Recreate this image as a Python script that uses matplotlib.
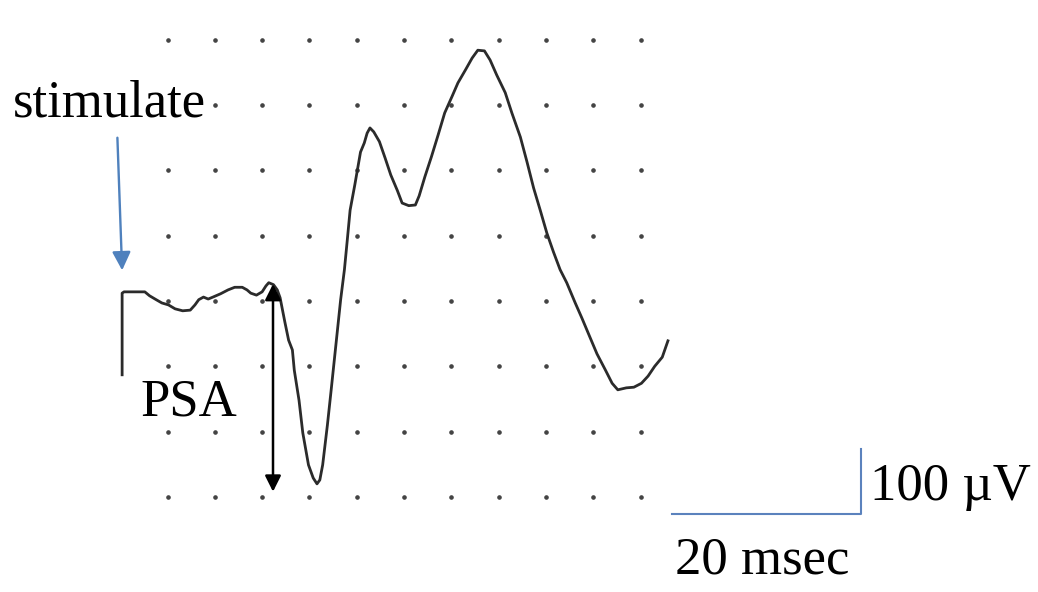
import numpy as np
import matplotlib
matplotlib.use("Agg")
import matplotlib.pyplot as plt

plt.rcParams['font.family'] = ['Liberation Serif', 'DejaVu Serif']

# evoked response trace: time (ms) and amplitude (uV)
time_ms = [-4.8, -4.8, -4.6, -2.4, -1.9, -1.2, -0.6, 0.1, 0.8, 1.6, 2.4, 2.9, 3.3, 3.8,
           4.3, 4.8, 5.6, 6.4, 7.1, 7.9, 8.4, 8.8, 9.4, 10.0, 10.4, 10.7, 11.2, 11.6,
           11.9, 12.4, 12.8, 13.2, 13.4, 13.9, 14.3, 14.9, 15.4, 15.8, 16.1, 16.4,
           16.9, 17.3, 17.8, 18.3, 18.7, 19.0, 19.3, 19.8, 20.4, 20.8, 21.1, 21.4,
           21.8, 22.4, 23.0, 23.6, 24.3, 24.8, 25.5, 26.2, 26.6, 27.2, 27.9, 28.6,
           29.3, 30.1, 30.7, 31.5, 32.2, 32.8, 33.5, 34.1, 34.8, 35.7, 36.4, 37.3,
           38.0, 38.7, 39.4, 40.1, 40.8, 41.5, 42.2, 43.1, 43.8, 44.7, 45.4, 46.3,
           47.0, 47.6, 48.5, 49.3, 50.1, 50.8, 51.5, 52.3, 52.9]
amp_uV = [-113, 12, 14, 14, 8, 2, -3, -6, -12, -15, -14, -6, 2, 6,
          3, 6, 11, 17, 21, 21, 17, 12, 9, 14, 23, 28, 25, 17,
          5, -32, -60, -75, -106, -152, -202, -251, -271, -280, -274, -251,
          -190, -136, -67, 2, 48, 93, 139, 178, 228, 242, 257, 265,
          259, 244, 219, 193, 169, 150, 146, 147, 161, 190, 221, 254,
          288, 314, 334, 354, 372, 384, 383, 369, 346, 319, 288, 251,
          213, 173, 139, 104, 75, 48, 28, -3, -26, -57, -81, -106,
          -126, -136, -133, -132, -126, -115, -100, -86, -61]

# oscilloscope graticule
grid_ms = np.arange(0, 51, 5)
grid_uV = np.arange(-300, 401, 100)

# annotations
stim_ms = -4.8
psa_ms = 11.15
psa_top, psa_bottom = 26, -292
bar_ms = 20
bar_uV = 100

fig = plt.figure(figsize=(10.38, 5.92), dpi=100)
ax = fig.add_axes([0, 0, 1, 1])
ax.set_xlim(-17.71, 92.02)
ax.set_ylim(-445.6, 460.9)
ax.axis('off')

gx, gy = np.meshgrid(grid_ms, grid_uV)
ax.plot(gx.ravel(), gy.ravel(), 'o', color='#444444', markersize=2.3, zorder=1)

ax.plot(time_ms, amp_uV, color='#2b2b2b', lw=2.0, zorder=3)

# stimulus marker
ax.annotate('', xy=(stim_ms, 47), xytext=(stim_ms - 0.5, 250),
            arrowprops=dict(arrowstyle='-|>', color='#4f81bd', lw=1.7,
                            mutation_scale=28, shrinkA=0, shrinkB=0))
ax.text(-16.3, 282, 'stimulate', fontsize=38, va='baseline', ha='left',
        bbox=dict(facecolor='white', edgecolor='none', pad=0), zorder=4)

# population spike amplitude
ax.annotate('', xy=(psa_ms, psa_bottom), xytext=(psa_ms, psa_top),
            arrowprops=dict(arrowstyle='<|-|>', color='black', lw=1.8,
                            mutation_scale=24, shrinkA=0, shrinkB=0), zorder=4)
ax.text(-2.9, -175, 'PSA', fontsize=38, va='baseline', ha='left')

# scale bar
bx1, by0 = 73.3, -326
ax.plot([bx1 - bar_ms, bx1, bx1], [by0, by0, by0 + bar_uV], color='#5b82bd', lw=1.5)
ax.text(74.3, -305, '100 µV', fontsize=38, va='baseline', ha='left')
ax.text(53.6, -417, '20 msec', fontsize=38, va='baseline', ha='left')

fig.savefig('out.png', dpi=100, facecolor='white')
